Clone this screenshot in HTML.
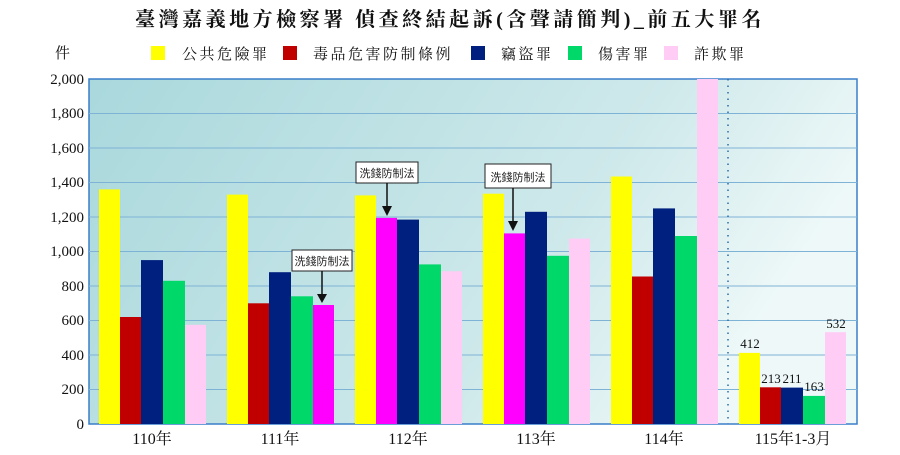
<!DOCTYPE html>
<html><head><meta charset="utf-8"><style>
body{margin:0;background:#fff;}
svg text{font-family:"Liberation Serif","Noto Serif CJK SC",serif;}
</style></head><body>
<svg width="900" height="450" xmlns="http://www.w3.org/2000/svg">
<defs>
<linearGradient id="bg" x1="0" y1="0" x2="1" y2="0.3">
<stop offset="0" stop-color="#a9d8dc"/><stop offset="0.7" stop-color="#cfe9eb"/><stop offset="1" stop-color="#eef8f8"/>
</linearGradient>
</defs>
<text x="450" y="26" text-anchor="middle" font-size="20" font-weight="bold" fill="#111" letter-spacing="3.5">臺灣嘉義地方檢察署 偵查終結起訴(含聲請簡判)_前五大罪名</text>
<text x="55" y="58" font-size="15" fill="#111">件</text>
<g font-size="15" fill="#111" letter-spacing="2.5">
<rect x="151" y="46" width="14" height="14" fill="#ffff00"/><text x="182" y="59">公共危險罪</text>
<rect x="283" y="46" width="14" height="14" fill="#c00000"/><text x="313" y="59">毒品危害防制條例</text>
<rect x="471" y="46" width="14" height="14" fill="#002080"/><text x="501" y="59">竊盜罪</text>
<rect x="568" y="46" width="14" height="14" fill="#00d86a"/><text x="598" y="59">傷害罪</text>
<rect x="664" y="46" width="14" height="14" fill="#ffccf5"/><text x="694" y="59">詐欺罪</text>
</g>
<rect x="89" y="79" width="768" height="345" fill="url(#bg)" stroke="#3a7ec8" stroke-width="1.5"/>
<g stroke="#7fb3d6" stroke-width="1">
<line x1="89" y1="113.5" x2="857" y2="113.5"/><line x1="89" y1="148" x2="857" y2="148"/>
<line x1="89" y1="182.5" x2="857" y2="182.5"/><line x1="89" y1="217" x2="857" y2="217"/>
<line x1="89" y1="251.5" x2="857" y2="251.5"/><line x1="89" y1="286" x2="857" y2="286"/>
<line x1="89" y1="320.5" x2="857" y2="320.5"/><line x1="89" y1="355" x2="857" y2="355"/>
<line x1="89" y1="389.5" x2="857" y2="389.5"/>
</g>
<line x1="728" y1="79" x2="728" y2="424" stroke="#2a6aa8" stroke-width="1.5" stroke-dasharray="1.5,5"/>
<g font-size="15" fill="#111" text-anchor="end">
<text x="84" y="84">2,000</text><text x="84" y="118">1,800</text><text x="84" y="153">1,600</text>
<text x="84" y="187">1,400</text><text x="84" y="222">1,200</text><text x="84" y="256">1,000</text>
<text x="84" y="291">800</text><text x="84" y="325">600</text><text x="84" y="360">400</text>
<text x="84" y="394">200</text><text x="84" y="429">0</text>
</g>
<g>
<rect x="99" y="189.4" width="21" height="234.6" fill="#ffff00"/>
<rect x="120" y="317" width="21" height="107" fill="#c00000"/>
<rect x="141" y="260.1" width="22" height="163.9" fill="#002080"/>
<rect x="163" y="280.8" width="22" height="143.2" fill="#00d86a"/>
<rect x="185" y="324.8" width="21" height="99.2" fill="#ffccf5"/>
<rect x="227" y="194.6" width="21" height="229.4" fill="#ffff00"/>
<rect x="248" y="303.3" width="21" height="120.7" fill="#c00000"/>
<rect x="269" y="272.2" width="22" height="151.8" fill="#002080"/>
<rect x="291" y="296.3" width="22" height="127.7" fill="#00d86a"/>
<rect x="313" y="305" width="21" height="119" fill="#ff00ff"/>
<rect x="355" y="195.4" width="21" height="228.6" fill="#ffff00"/>
<rect x="376" y="217.9" width="21" height="206.1" fill="#ff00ff"/>
<rect x="397" y="219.6" width="22" height="204.4" fill="#002080"/>
<rect x="419" y="264.4" width="22" height="159.6" fill="#00d86a"/>
<rect x="441" y="271.3" width="21" height="152.7" fill="#ffccf5"/>
<rect x="483" y="193.7" width="21" height="230.3" fill="#ffff00"/>
<rect x="504" y="233.4" width="21" height="190.6" fill="#ff00ff"/>
<rect x="525" y="211.8" width="22" height="212.2" fill="#002080"/>
<rect x="547" y="255.8" width="22" height="168.2" fill="#00d86a"/>
<rect x="569" y="238.6" width="21" height="185.4" fill="#ffccf5"/>
<rect x="611" y="176.5" width="21" height="247.5" fill="#ffff00"/>
<rect x="632" y="276.5" width="21" height="147.5" fill="#c00000"/>
<rect x="653" y="208.4" width="22" height="215.6" fill="#002080"/>
<rect x="675" y="236" width="22" height="188" fill="#00d86a"/>
<rect x="697" y="79" width="21" height="345" fill="#ffccf5"/>
<rect x="739" y="352.9" width="21" height="71.1" fill="#ffff00"/>
<rect x="760" y="387.3" width="21" height="36.7" fill="#c00000"/>
<rect x="781" y="387.6" width="22" height="36.4" fill="#002080"/>
<rect x="803" y="395.9" width="22" height="28.1" fill="#00d86a"/>
<rect x="825" y="332.2" width="21" height="91.8" fill="#ffccf5"/>
</g>
<g font-size="13" fill="#111" text-anchor="middle">
<text x="750" y="348">412</text><text x="771" y="383">213</text><text x="792" y="383">211</text>
<text x="814" y="391">163</text><text x="836" y="328">532</text>
</g>
<g font-size="16" fill="#111" text-anchor="middle">
<text x="152" y="444">110年</text><text x="280" y="444">111年</text><text x="408" y="444">112年</text>
<text x="536" y="444">113年</text><text x="664" y="444">114年</text><text x="793" y="444">115年1-3月</text>
</g>
<g font-size="11" fill="#222" text-anchor="middle">
<rect x="292" y="250" width="60" height="21" fill="#fff" stroke="#222"/><text x="322" y="265" style="font-family:'Noto Sans CJK TC',sans-serif">洗錢防制法</text>
<line x1="322" y1="271" x2="322" y2="298" stroke="#111" stroke-width="1.5"/><polygon points="317,294 327,294 322,303" fill="#111"/>
<rect x="356" y="162" width="62" height="21" fill="#fff" stroke="#222"/><text x="387" y="177" style="font-family:'Noto Sans CJK TC',sans-serif">洗錢防制法</text>
<line x1="387" y1="183" x2="387" y2="210" stroke="#111" stroke-width="1.5"/><polygon points="382,206 392,206 387,216" fill="#111"/>
<rect x="485" y="164" width="66" height="24" fill="#fff" stroke="#222"/><text x="518" y="181" style="font-family:'Noto Sans CJK TC',sans-serif">洗錢防制法</text>
<line x1="513" y1="188" x2="513" y2="225" stroke="#111" stroke-width="1.5"/><polygon points="508,221 518,221 513,231" fill="#111"/>
</g>
</svg>
</body></html>
